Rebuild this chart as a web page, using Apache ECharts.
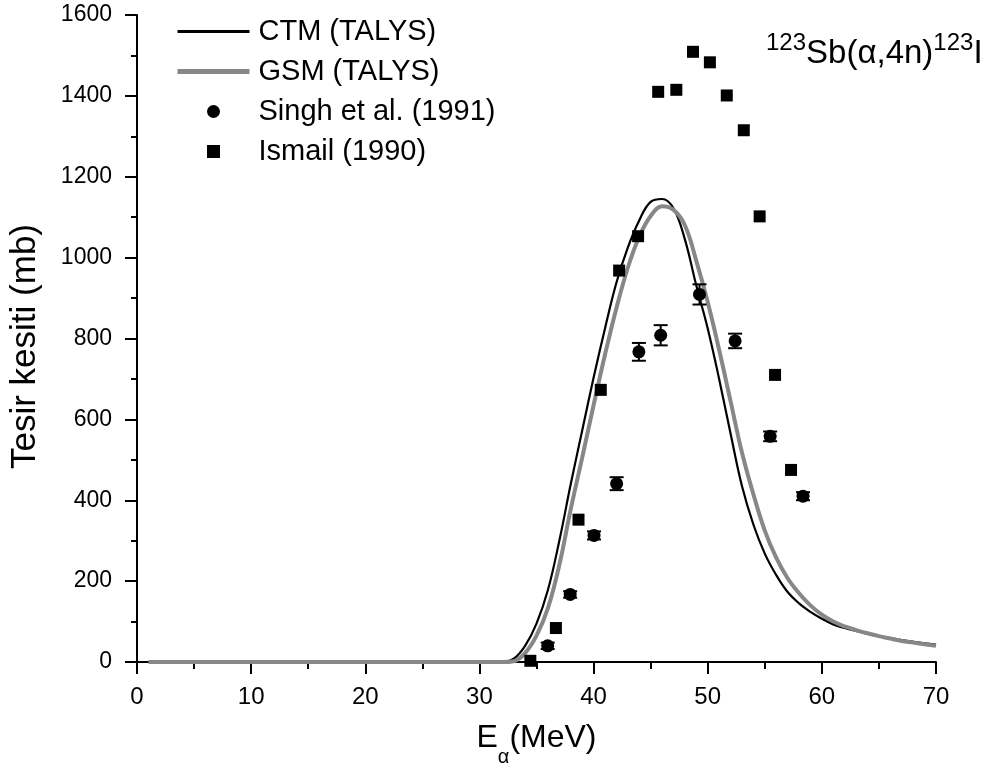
<!DOCTYPE html>
<html>
<head>
<meta charset="utf-8">
<script src="https://cdn.jsdelivr.net/npm/echarts@6.0.0/dist/echarts.min.js"></script>
<style>
html,body{margin:0;padding:0;background:#fff;}
#chart{width:1000px;height:772px;}
</style>
</head>
<body>
<div id="chart"></div>
<script>
// ---- data ----
const ctmE     = [1, 31, 32, 33, 34, 35, 36, 37, 38, 39, 40, 41, 42, 43, 44, 45, 46, 47, 48, 49, 50, 51, 52, 53, 54, 55, 56, 57, 58, 59, 60, 61, 62, 63, 64, 65, 66, 67, 68, 69, 70];
const ctmSigma = [0, 0, 0, 8, 40, 95, 178, 300, 440, 572, 703, 825, 938, 1025, 1092, 1138, 1145, 1122, 1045, 931, 825, 700, 565, 435, 340, 268, 215, 173, 145, 124, 107, 93, 84, 77, 70, 64, 59, 54, 50, 46, 43];

const gsmE     = [1, 31, 32, 33, 34, 35, 36, 37, 38, 39, 40, 41, 42, 43, 44, 45, 46, 47, 48, 49, 50, 51, 52, 53, 54, 55, 56, 57, 58, 59, 60, 61, 62, 63, 64, 65, 66, 67, 68, 69, 70];
const gsmSigma = [0, 0, 0, 2, 22, 65, 133, 240, 378, 505, 635, 760, 875, 975, 1052, 1103, 1127, 1118, 1080, 992, 890, 772, 645, 518, 415, 325, 258, 207, 170, 140, 117, 100, 88, 79, 71, 64, 58, 52, 48, 44, 40];

const singhE     = [35.98, 37.95, 40.04, 42.02, 43.97, 45.88, 49.28, 52.4, 55.47, 58.35];
const singhSigma = [40, 167, 313, 441, 767, 808, 909, 794, 558, 410];
const singhErr   = [8, 8, 10, 16, 22, 25, 25, 18, 12, 10];

const ismailE     = [34.46, 36.7, 38.68, 40.63, 42.24, 43.9, 45.66, 47.25, 48.71, 50.19, 51.67, 53.16, 54.55, 55.9, 57.3];
const ismailSigma = [3, 84, 352, 673, 968, 1053, 1410, 1415, 1509, 1483, 1401, 1315, 1102, 710, 475];

const seriesNames = ['CTM (TALYS)', 'GSM (TALYS)', 'Singh et al. (1991)', 'Ismail (1990)'];

// ---- chart ----
const FONT = '"Liberation Sans", Arial, sans-serif';
const pairs = (xs, ys) => xs.map((x, i) => [x, ys[i]]);

const chart = echarts.init(document.getElementById('chart'), null, {renderer: 'canvas'});
chart.setOption({
  animation: false,
  backgroundColor: '#fff',
  grid: {left: 133, right: 64, top: 15, bottom: 108, containLabel: false},
  legend: {
    orient: 'vertical',
    left: 170,
    top: 12,
    itemWidth: 72,
    itemHeight: 13,
    itemGap: 11,
    data: [
      {name: seriesNames[0], lineStyle: {width: 3, color: '#000'}},
      {name: seriesNames[1], lineStyle: {width: 5, color: '#878787'}},
      {name: seriesNames[2], icon: 'circle'},
      {name: seriesNames[3], icon: 'path://M0,0L10,0L10,10L0,10Z'}
    ],
    textStyle: {fontSize: 29, lineHeight: 29, fontFamily: FONT, color: '#000', padding: [0, 0, 0, 4]}
  },
  xAxis: {
    type: 'value', min: 0, max: 70, interval: 10,
    name: '{e|E}{s|α}{e|(MeV)}',
    nameLocation: 'middle', nameGap: 60,
    nameTextStyle: {
      rich: {
        e: {fontSize: 32, fontFamily: FONT, color: '#000', lineHeight: 34, verticalAlign: 'top'},
        s: {fontSize: 20, fontFamily: FONT, color: '#000', lineHeight: 20, verticalAlign: 'top', padding: [25, 0, 0, 0]}
      }
    },
    axisLine: {show: true, onZero: false, lineStyle: {color: '#000', width: 2}},
    axisTick: {show: true, inside: false, length: 12, lineStyle: {color: '#000', width: 2}},
    minorTick: {show: true, splitNumber: 2, length: 7, lineStyle: {color: '#000', width: 2}},
    axisLabel: {fontSize: 24, fontFamily: FONT, color: '#000', margin: 23},
    splitLine: {show: false}
  },
  yAxis: {
    type: 'value', min: 0, max: 1600, interval: 200,
    name: 'Tesir kesiti (mb)',
    nameLocation: 'middle', nameGap: 94,
    nameTextStyle: {fontSize: 35, fontFamily: FONT, color: '#000', padding: [0, 16, 0, 0]},
    axisLine: {show: true, onZero: false, lineStyle: {color: '#000', width: 2}},
    axisTick: {show: true, inside: false, length: 12, lineStyle: {color: '#000', width: 2}},
    minorTick: {show: true, splitNumber: 2, length: 6, lineStyle: {color: '#000', width: 2}},
    axisLabel: {fontSize: 23, fontFamily: FONT, color: '#000', margin: 25, formatter: v => String(v)},
    splitLine: {show: false}
  },
  series: [
    {
      name: seriesNames[0], type: 'line', data: pairs(ctmE, ctmSigma),
      symbol: 'none', smooth: 0.4,
      lineStyle: {color: '#000', width: 2.2}, itemStyle: {color: '#000', opacity: 0}, z: 2
    },
    {
      name: seriesNames[1], type: 'line', data: pairs(gsmE, gsmSigma),
      symbol: 'none', smooth: 0.4,
      lineStyle: {color: '#878787', width: 4}, itemStyle: {color: '#878787', opacity: 0}, z: 3
    },
    {
      name: 'errors', type: 'custom', silent: true, z: 4,
      data: singhE.map((e, i) => [e, singhSigma[i] - singhErr[i], singhSigma[i] + singhErr[i]]),
      encode: {x: 0, y: [1, 2]},
      renderItem: function (params, api) {
        const x = api.value(0);
        const lo = api.coord([x, api.value(1)]);
        const hi = api.coord([x, api.value(2)]);
        const w = 7;
        const st = {stroke: '#000', lineWidth: 2};
        return {
          type: 'group',
          children: [
            {type: 'line', shape: {x1: lo[0], y1: lo[1], x2: hi[0], y2: hi[1]}, style: st},
            {type: 'line', shape: {x1: lo[0] - w, y1: lo[1], x2: lo[0] + w, y2: lo[1]}, style: st},
            {type: 'line', shape: {x1: hi[0] - w, y1: hi[1], x2: hi[0] + w, y2: hi[1]}, style: st}
          ]
        };
      }
    },
    {
      name: seriesNames[2], type: 'scatter', data: pairs(singhE, singhSigma),
      symbol: 'circle', symbolSize: 13, itemStyle: {color: '#000', opacity: 1}, z: 5
    },
    {
      name: seriesNames[3], type: 'scatter', data: pairs(ismailE, ismailSigma),
      symbol: 'rect', symbolSize: 12, itemStyle: {color: '#000', opacity: 1}, z: 5
    }
  ],
  graphic: [
    {
      type: 'text', left: 766, top: 31, z: 10,
      style: {
        text: '{sup|123}{m|Sb(α,4n)}{sup|123}{m|I}',
        fill: '#000',
        rich: {
          sup: {fontSize: 24, fontFamily: FONT, fill: '#000', lineHeight: 24, verticalAlign: 'top'},
          m: {fontSize: 33, fontFamily: FONT, fill: '#000', lineHeight: 40, verticalAlign: 'top', padding: [6, 0, 0, 0]}
        }
      }
    }
  ]
});
</script>
</body>
</html>
